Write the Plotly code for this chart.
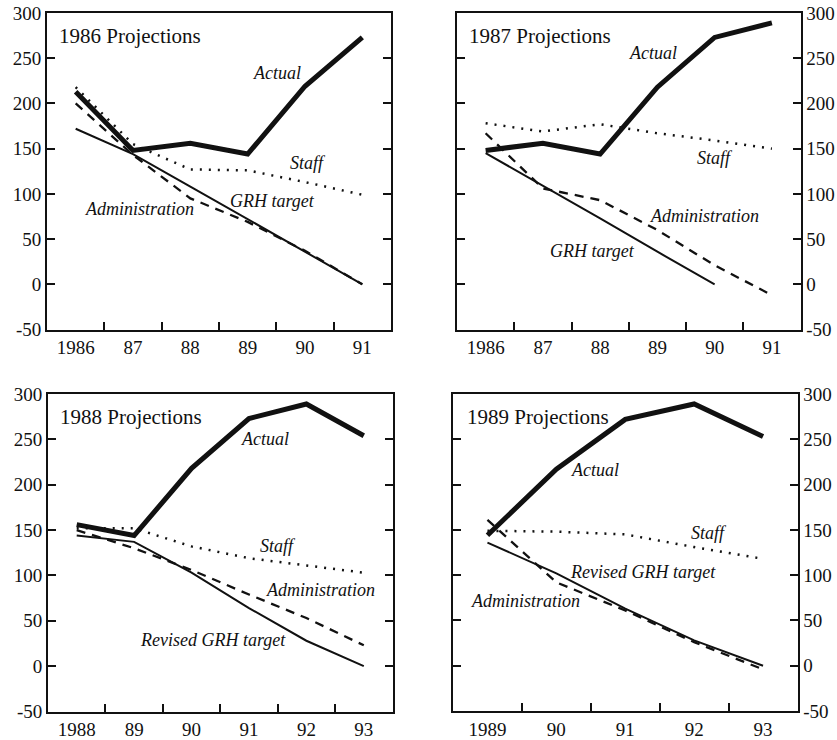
import plotly.graph_objects as go

# ---- data (billions of dollars) ----
years_86 = ["1986", "87", "88", "89", "90", "91"]
years_88 = ["1988", "89", "90", "91", "92", "93"]
years_89 = ["1989", "90", "91", "92", "93"]

# 1986 projections
p86_actual = [213, 148, 156, 144, 219, 273]
p86_staff = [218, 155, 127, 126, 113, 99]
p86_admin = [200, 143, 95, 69, 37, 0]
p86_grh = [172, 144, 108, 72, 36, 0]

# 1987 projections
p87_actual = [148, 156, 144, 218, 273, 289]
p87_staff = [178, 169, 177, 167, 159, 150]
p87_admin = [167, 106, 93, 60, 21, -12]
p87_grh = [145, 109, 73, 36, 0, None]

# 1988 projections
p88_actual = [156, 144, 218, 273, 289, 254]
p88_staff = [152, 152, 132, 119, 111, 103]
p88_admin = [150, 130, 106, 79, 53, 23]
p88_grh = [144, 137, 103, 64, 28, 0]

# 1989 projections
p89_actual = [144, 217, 272, 289, 253]
p89_staff = [149, 148, 145, 131, 118]
p89_admin = [161, 92, 61, 26, -4]
p89_grh = [136, 102, 63, 28, 0]

y_ticks = [-50, 0, 50, 100, 150, 200, 250, 300]
y_tick_text = ["-50", "0", "50", "100", "150", "200", "250", "300"]

FONT = "Liberation Serif"
INK = "#111111"
W, H = 837, 740

# panel frames in pixels: (left, right, top, bottom)
frames = [
    (47, 391, 13, 329.5),
    (457, 800.5, 13, 329.5),
    (48, 392.5, 394, 711.5),
    (453, 797.5, 394, 711),
]

panels = [
    dict(cats=years_86, actual=p86_actual, staff=p86_staff, admin=p86_admin,
         grh=p86_grh, title="1986 Projections", side="left",
         labels=[("Actual", 3.51, 234), ("Staff", 4.05, 134),
                 ("GRH target", 3.44, 92), ("Administration", 1.11, 83)]),
    dict(cats=years_86, actual=p87_actual, staff=p87_staff, admin=p87_admin,
         grh=p87_grh, title="1987 Projections", side="right",
         labels=[("Actual", 2.92, 256), ("Staff", 4.0, 140),
                 ("Administration", 3.83, 76), ("GRH target", 1.87, 37)]),
    dict(cats=years_88, actual=p88_actual, staff=p88_staff, admin=p88_admin,
         grh=p88_grh, title="1988 Projections", side="left",
         labels=[("Actual", 3.28, 250), ("Staff", 3.5, 132),
                 ("Administration", 4.25, 84), ("Revised GRH target", 2.37, 29)]),
    dict(cats=years_89, actual=p89_actual, staff=p89_staff, admin=p89_admin,
         grh=p89_grh, title="1989 Projections", side="right",
         labels=[("Actual", 1.56, 216), ("Staff", 3.22, 146),
                 ("Revised GRH target", 2.26, 103), ("Administration", 0.55, 71)]),
]

fig = go.Figure()
annotations = []
layout = {}

for i, (p, fr) in enumerate(zip(panels, frames), start=1):
    xa = "x" if i == 1 else f"x{i}"
    ya = "y" if i == 1 else f"y{i}"
    l, r, t, b = fr
    n = len(p["cats"])

    line_styles = [
        (p["grh"], dict(color=INK, width=2)),
        (p["admin"], dict(color=INK, width=2.3, dash="9px,7px")),
        (p["staff"], dict(color=INK, width=2.5, dash="2px,7px")),
        (p["actual"], dict(color=INK, width=5)),
    ]
    for vals, ln in line_styles:
        fig.add_trace(go.Scatter(x=p["cats"], y=vals, mode="lines", line=ln,
                                 xaxis=xa, yaxis=ya, showlegend=False,
                                 connectgaps=False, hoverinfo="skip"))

    layout["xaxis" if i == 1 else f"xaxis{i}"] = dict(
        domain=[l / W, r / W], anchor=ya, type="category",
        categoryorder="array", categoryarray=p["cats"],
        range=[-0.5, n - 0.5], tickson="boundaries",
        ticks="inside", ticklen=8, tickwidth=1.5, tickcolor=INK,
        showline=True, linewidth=1.8, linecolor=INK, mirror=True,
        showgrid=False, zeroline=False, fixedrange=True, automargin=False,
        tickfont=dict(family=FONT, size=19, color=INK),
        ticklabelstandoff=0,
    )
    layout["yaxis" if i == 1 else f"yaxis{i}"] = dict(
        domain=[1 - b / H, 1 - t / H], anchor=xa, side=p["side"],
        range=[-50, 300], tickvals=y_ticks, ticktext=y_tick_text,
        ticks="inside", ticklen=8, tickwidth=1.5, tickcolor=INK,
        showline=True, linewidth=1.8, linecolor=INK, mirror="ticks",
        showgrid=False, zeroline=False, fixedrange=True, automargin=False,
        tickfont=dict(family=FONT, size=19, color=INK),
        ticklabelstandoff=0,
    )

    annotations.append(dict(
        text=p["title"], x=-0.33, y=275, xref=xa, yref=ya,
        xanchor="left", yanchor="middle", showarrow=False,
        font=dict(family=FONT, size=21, color=INK)))
    for txt, lx, ly in p["labels"]:
        annotations.append(dict(
            text=f"<i>{txt}</i>", x=lx, y=ly, xref=xa, yref=ya,
            xanchor="center", yanchor="middle", showarrow=False,
            font=dict(family=FONT, size=18, color=INK)))

fig.update_layout(
    **layout,
    annotations=annotations,
    width=W, height=H,
    margin=dict(l=0, r=0, t=0, b=0, autoexpand=False),
    paper_bgcolor="white", plot_bgcolor="white",
    showlegend=False,
)

fig.write_html("out.html", config={"displayModeBar": False})
